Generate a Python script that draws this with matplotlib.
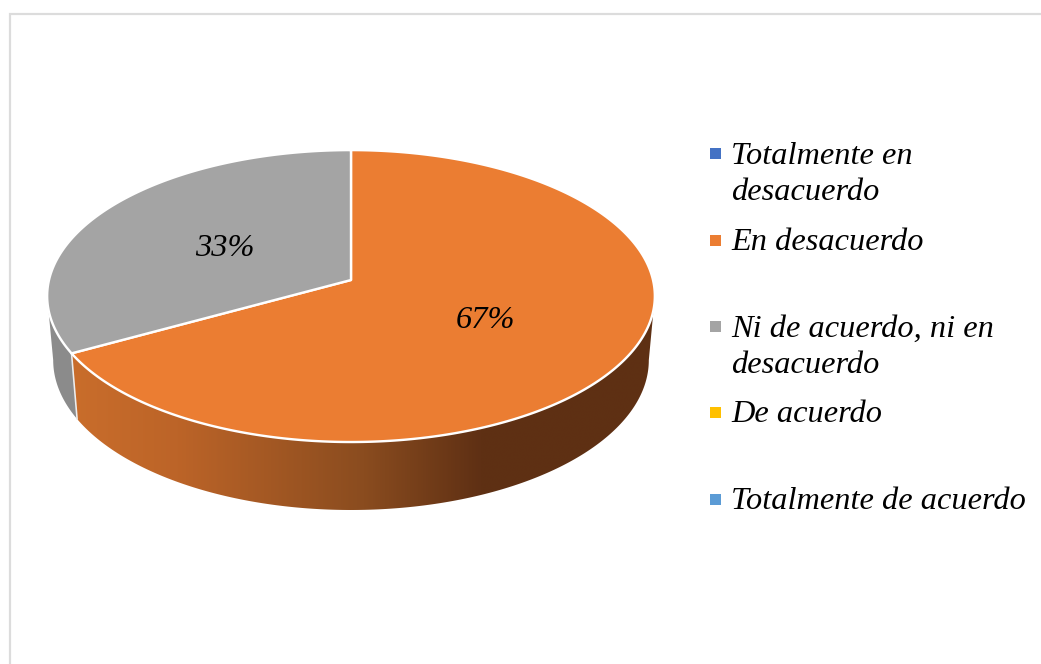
import numpy as np
import matplotlib
matplotlib.use("Agg")
import matplotlib.pyplot as plt
from matplotlib.patches import Polygon
from matplotlib.colors import LinearSegmentedColormap

categories = ["Totalmente en\ndesacuerdo", "En desacuerdo", "Ni de acuerdo, ni en\ndesacuerdo",
              "De acuerdo", "Totalmente de acuerdo"]
values = [0, 67, 33, 0, 0]
colors = ["#4472C4", "#EB7D32", "#A4A4A4", "#FFC000", "#5B9BD5"]
legend_y = [153.5, 240, 326, 412.5, 499]
label_pos = {1: (485, 321), 2: (225, 249)}

W, H = 1041, 664
fig = plt.figure(figsize=(W / 100, H / 100), dpi=100)
ax = fig.add_axes([0, 0, 1, 1])
ax.axis("off")
px = 72 / 100
FS = 32.4 * px
LINE_GAP = 37

# chart frame
ax.plot([9.5, 9.5, W], [H, 13.5, 13.5], color="#DCDCDC", lw=2.2 * px, solid_joinstyle="miter")

CX = 351
K = 0.11


def top(th):
    w = 1 + K * np.cos(th)
    return CX + 302 * np.sin(th) / w, 280 - 144.2 * np.cos(th) / w


def bottom(th):
    w = 1 + K * np.cos(th)
    return CX + 296 * np.sin(th) / w, 343.7 - 148 * np.cos(th) / w


wall_cmap = LinearSegmentedColormap.from_list(
    "wall", [(0, "#C96D2B"), (0.18, "#BC6428"), (0.5, "#8A4C1F"), (0.70, "#5F3014"), (1, "#5E3013")])

# slices, clockwise from 12 o'clock
total = sum(values)
start = 0.0
spans = {}
for i, v in enumerate(values):
    end = start + 2 * np.pi * v / total
    spans[i] = (start, end)
    start = end

seam = spans[1][1]
edge = np.arccos(-K)  # where the disc is widest: the wall's silhouette


def band(a, b):
    th = np.linspace(a, b, 500)
    xt, yt = top(th)
    xb, yb = bottom(th)
    return np.column_stack([np.r_[xt, xb[::-1]], np.r_[yt, yb[::-1]]])


# orange wall with its horizontal shading
orange_wall = Polygon(band(edge, seam), closed=True, transform=ax.transData, facecolor="none", edgecolor="none")
ax.add_patch(orange_wall)
im = ax.imshow(np.linspace(0, 1, 1200)[None, :], extent=(72, 656, 515, 280), aspect="auto",
               cmap=wall_cmap, interpolation="bilinear", zorder=2)
im.set_clip_path(orange_wall)

# grey wall
ax.add_patch(Polygon(band(seam, 2 * np.pi - edge), closed=True, facecolor="#8B8B8B", edgecolor="none", zorder=2))

# light seam between the two slices on the wall
ax.plot([top(seam)[0], bottom(seam)[0]], [top(seam)[1], bottom(seam)[1]], color="#EDEDED", lw=1.6 * px, zorder=3)

# top faces
for i, (a, b) in spans.items():
    if b <= a:
        continue
    xt, yt = top(np.linspace(a, b, 500))
    pts = np.column_stack([np.r_[CX, xt], np.r_[280, yt]])
    ax.add_patch(Polygon(pts, closed=True, facecolor=colors[i], edgecolor="white", lw=2.4 * px,
                         joinstyle="round", zorder=4))

# percent labels
for i, (x, y) in label_pos.items():
    ax.text(x, y, f"{values[i]}%", family="Liberation Serif", style="italic", fontsize=FS,
            ha="center", va="center", color="black", zorder=5)

# legend
for name, c, y in zip(categories, colors, legend_y):
    ax.add_patch(Polygon([(710, y - 5.5), (721, y - 5.5), (721, y + 5.5), (710, y + 5.5)], closed=True,
                         facecolor=c, edgecolor="none", zorder=5))
    ax.text(731, y + 10 + LINE_GAP * name.count("\n"), name, family="Liberation Serif", style="italic",
            fontsize=FS, ha="left", va="baseline", color="black", linespacing=1.34, zorder=5)

ax.set_xlim(0, W)
ax.set_ylim(H, 0)
fig.savefig("out.png", dpi=100, facecolor="white")
